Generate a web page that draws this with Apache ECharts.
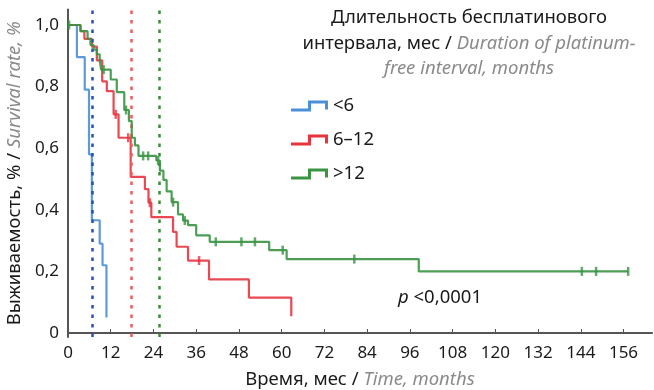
<!DOCTYPE html>
<html>
<head>
<meta charset="utf-8">
<script src="https://cdn.jsdelivr.net/npm/echarts@6/dist/echarts.min.js"></script>
<style>
  html, body { margin: 0; padding: 0; background: #fff; }
  #chart { width: 654px; height: 390px; }
</style>
</head>
<body>
<div id="chart"></div>
<script>
// Kaplan–Meier survival by platinum-free interval group
const groupNames = ['<6', '6–12', '>12'];
const groupColors = ['#4a8fd8', '#e8343f', '#3a9443'];
const medianColors = ['#2451b8', '#f05c5c', '#3a8c3a'];

// <6 months: event times (months) and survival after each step
const shortT = [0, 2.5, 4.7, 5.9, 6.7, 8.9, 9.7, 10.8];
const shortS = [1.0, 0.896, 0.79, 0.58, 0.366, 0.29, 0.22, 0.05];
const shortCensorT = [];

// 6–12 months
const midT = [0, 3.5, 4.6, 6.7, 8.1, 9.6, 10.9, 12.8, 14.2, 17.6, 21.6, 22.6, 23.4, 29.5, 30.5, 33.7, 39.6, 50.8, 62.7];
const midS = [1.0, 0.98, 0.955, 0.93, 0.885, 0.817, 0.785, 0.71, 0.634, 0.507, 0.467, 0.423, 0.376, 0.328, 0.28, 0.235, 0.174, 0.115, 0.054];
const midCensorT = [13.4, 16.9, 23.0, 36.8];

// >12 months
const longT = [0, 3.5, 5.5, 6.3, 7.2, 8.1, 8.9, 9.3, 12.0, 13.7, 15.8, 17.1, 17.9, 18.8, 19.8, 24.8, 25.8, 26.8, 27.7, 29.1, 30.9, 32.3, 33.7, 36.0, 39.8, 56.5, 61.4, 98.5, 157.3];
const longS = [1.0, 0.98, 0.955, 0.935, 0.92, 0.905, 0.885, 0.855, 0.823, 0.782, 0.724, 0.688, 0.634, 0.609, 0.575, 0.56, 0.527, 0.497, 0.46, 0.425, 0.385, 0.365, 0.35, 0.317, 0.296, 0.269, 0.24, 0.2, 0.2];
const longCensorT = [0.3, 10.0, 16.3, 21.1, 22.5, 25.3, 29.5, 32.8, 41.5, 48.7, 52.5, 60.3, 80.4, 144.3, 148.3, 157.3];

// Median survival per group (months)
const medianT = [6.9, 17.8, 25.6];

// Axis ticks
const xTicks = [0, 12, 24, 36, 48, 60, 72, 84, 96, 108, 120, 132, 144, 156];
const yTicks = [0, 0.2, 0.4, 0.6, 0.8, 1.0];

const FONT = 'Noto Sans';
const TEXT_SIZE = 18.5;

function survivalAt(times, surv, t) {
  let s = surv[0];
  for (let i = 0; i < times.length; i++) {
    if (times[i] <= t) s = surv[i];
  }
  return s;
}

const groups = [
  { t: shortT, s: shortS, c: shortCensorT },
  { t: midT, s: midS, c: midCensorT },
  { t: longT, s: longS, c: longCensorT }
];

const series = [];
groups.forEach((g, i) => {
  series.push({
    name: groupNames[i],
    type: 'line',
    step: 'end',
    showSymbol: false,
    silent: true,
    z: 3 + i,
    data: g.t.map((t, k) => [t, g.s[k]]),
    lineStyle: { color: groupColors[i], width: 2.2, opacity: 0.9 },
    itemStyle: { color: groupColors[i] },
    markLine: {
      silent: true,
      symbol: 'none',
      label: { show: false },
      lineStyle: { color: medianColors[i], type: [3.5, 6], width: 2.5, cap: 'butt' },
      data: [{ xAxis: medianT[i] }]
    }
  });
  if (g.c.length) {
    series.push({
      name: groupNames[i] + ' censored',
      type: 'scatter',
      silent: true,
      z: 6,
      symbol: 'rect',
      symbolSize: [2.5, 9],
      itemStyle: { color: groupColors[i] },
      data: g.c.map(t => [t, survivalAt(g.t, g.s, t)])
    });
  }
});

const richName = {
  a: { fontFamily: FONT, fontSize: TEXT_SIZE, color: '#1a1a1a' },
  b: { fontFamily: FONT, fontSize: TEXT_SIZE, color: '#8a8a8a', fontStyle: 'italic' }
};

const chart = echarts.init(document.getElementById('chart'), null, { renderer: 'canvas' });
chart.setOption({
  animation: false,
  textStyle: { fontFamily: FONT },
  grid: { left: 68, right: 2, top: 9.6, bottom: 53, containLabel: false, outerBoundsMode: 'none' },
  xAxis: {
    type: 'value',
    min: 0,
    max: 164,
    name: '{a|Время, мес / }{b|Time, months}',
    nameLocation: 'middle',
    nameGap: 33,
    nameTextStyle: { rich: richName },
    axisLine: { lineStyle: { color: '#555', width: 2 } },
    axisTick: { show: true, inside: true, length: 4, customValues: xTicks, lineStyle: { color: '#555', width: 1 } },
    axisLabel: { customValues: xTicks, fontSize: 17, color: '#1a1a1a', margin: 8, fontFamily: FONT },
    splitLine: { show: false }
  },
  yAxis: {
    type: 'value',
    min: -0.013,
    max: 1.05,
    name: '{a|Выживаемость, % / }{b|Survival rate, %}',
    nameLocation: 'middle',
    nameGap: 40,
    nameTextStyle: { rich: richName },
    axisLine: { show: true, lineStyle: { color: '#555', width: 2 } },
    axisTick: { show: false },
    axisLabel: {
      customValues: yTicks,
      fontSize: 17,
      color: '#1a1a1a',
      margin: 9,
      fontFamily: FONT,
      formatter: v => (v === 0 ? '0' : v.toFixed(1).replace('.', ','))
    },
    splitLine: { show: false }
  },
  legend: {
    data: groupNames,
    orient: 'vertical',
    left: 286,
    top: 90,
    itemWidth: 37,
    itemHeight: 11,
    itemGap: 12,
    icon: 'path://M0,8 L17,8 L17,0 L37,0 L37,9 L34,9 L34,3 L20,3 L20,11 L0,11 Z',
    itemStyle: { borderWidth: 0 },
    selectedMode: false,
    textStyle: { fontSize: TEXT_SIZE, color: '#1a1a1a', fontFamily: FONT, lineHeight: 22 }
  },
  graphic: [
    {
      type: 'text',
      x: 469,
      y: 5,
      style: {
        text: '{a|Длительность бесплатинового}\n{a|интервала, мес / }{b|Duration of platinum-}\n{b|free interval, months}',
        align: 'center',
        verticalAlign: 'top',
        rich: {
          a: { fontFamily: FONT, fontSize: TEXT_SIZE, lineHeight: 25.5, fill: '#1a1a1a' },
          b: { fontFamily: FONT, fontSize: TEXT_SIZE, lineHeight: 25.5, fill: '#8a8a8a', fontStyle: 'italic' }
        }
      }
    },
    {
      type: 'text',
      x: 398,
      y: 298,
      style: {
        text: '{i|p} <0,0001',
        verticalAlign: 'middle',
        fontFamily: FONT,
        fontSize: TEXT_SIZE,
        fill: '#1a1a1a',
        rich: {
          i: { fontFamily: FONT, fontSize: TEXT_SIZE, fontStyle: 'italic', fill: '#1a1a1a' }
        }
      }
    }
  ],
  series: series
});
</script>
</body>
</html>
